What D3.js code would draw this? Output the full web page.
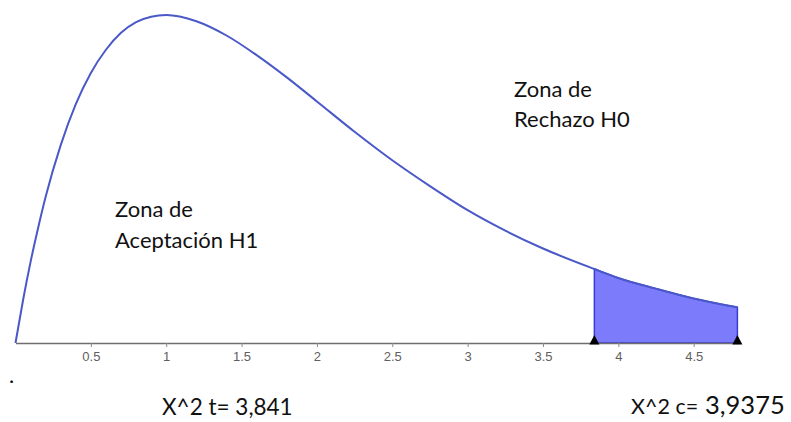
<!DOCTYPE html>
<html>
<head>
<meta charset="utf-8">
<script src="https://cdn.jsdelivr.net/npm/d3@7"></script>
<style>
  html, body { margin: 0; padding: 0; background: #fff; }
  #chart { width: 791px; height: 422px; }
</style>
</head>
<body>
<div id="chart"></div>
<script>
const width = 791;
const height = 422;

// points (x, hauteur)
const curveX = [0, 0.05, 0.1, 0.15, 0.2, 0.3, 0.4, 0.5, 0.6, 0.7, 0.8, 0.9, 1, 1.2, 1.4, 1.6, 1.8, 2, 2.25, 2.5, 2.75, 3, 3.25, 3.5, 3.841, 4, 4.25, 4.5, 4.79];
const curveY = [0, 0.048, 0.091, 0.129, 0.164, 0.222, 0.268, 0.303, 0.329, 0.348, 0.360, 0.366, 0.368, 0.361, 0.345, 0.323, 0.298, 0.271, 0.237, 0.205, 0.176, 0.149, 0.126, 0.106, 0.083, 0.073, 0.061, 0.050, 0.040];

const tickValues = [0.5, 1, 1.5, 2, 2.5, 3, 3.5, 4, 4.5];
const critical = 3.841;   // X^2 t
const xEnd = 4.79;        // fin de la zone ombrée
const markers = [critical, xEnd];

const data = curveX.map((x, i) => ({x: x, y: curveY[i]}));

const x = d3.scaleLinear().domain([0, 4.8]).range([15.5, 738.9]);
const y = d3.scaleLinear().domain([0, 0.368]).range([343, 15]);

const svg = d3.create("svg")
    .attr("width", width)
    .attr("height", height)
    .attr("viewBox", `0 0 ${width} ${height}`)
    .style("display", "block")
    .style("background", "#fff");

// zone de rejet
const area = d3.area()
    .x(d => x(d.x))
    .y0(y(0))
    .y1(d => y(d.y))
    .curve(d3.curveMonotoneX);

svg.append("path")
    .datum(data.filter(d => d.x >= critical))
    .attr("d", area)
    .attr("fill", "#7b7bfc")
    .attr("stroke", "#3b3bd6")
    .attr("stroke-width", 1.5);

// axe x
const axis = svg.append("g")
    .attr("transform", `translate(0,${y(0)})`)
    .attr("font-size", 13)
    .attr("font-family", "'Liberation Sans', Arial, sans-serif")
    .call(d3.axisBottom(x).tickValues(tickValues).tickSize(4).tickSizeOuter(0).tickFormat(d3.format("")));
axis.attr("font-size", 13).attr("font-family", "'Liberation Sans', Arial, sans-serif");
axis.select(".domain").attr("stroke", "#6e6e6e").attr("stroke-width", 1.6);
axis.selectAll(".tick line").attr("stroke", "#8a8a8a");
axis.selectAll(".tick text")
    .attr("fill", "#606060")
    .attr("dy", "0.85em");

// courbe
const line = d3.line()
    .x(d => x(d.x))
    .y(d => y(d.y))
    .curve(d3.curveMonotoneX);

svg.append("path")
    .datum(data)
    .attr("d", line)
    .attr("fill", "none")
    .attr("stroke", "#4a58c8")
    .attr("stroke-width", 2);

// triangles sur l'axe
svg.append("g")
  .selectAll("path")
  .data(markers)
  .join("path")
    .attr("d", "M-5,1.5 L0,-8 L5,1.5 Z")
    .attr("transform", d => `translate(${x(d)},${y(0)})`)
    .attr("fill", "#000");

// textes
const font = "Lato, 'Open Sans', sans-serif";
const txt = svg.append("g").style("font-family", font).attr("fill", "#111");

function lines(x0, y0, dy, arr, size) {
  arr.forEach((t, i) => {
    txt.append("text")
      .attr("x", x0)
      .attr("y", y0 + i * dy)
      .style("font-size", size + "px")
      .text(t);
  });
}

lines(115, 217, 31, ["Zona de", "Aceptación H1"], 22);
lines(514, 97, 30, ["Zona de", "Rechazo H0"], 22);

txt.append("text").attr("x", 162).attr("y", 415).style("font-size", "22.5px").text("X^2 t= 3,841");

txt.append("text").attr("x", 631).attr("y", 414).style("font-size", "21.5px").text("X^2 c=");
txt.append("text").attr("x", 705).attr("y", 414).style("font-size", "25.5px").text("3,9375");

txt.append("text").attr("x", 9).attr("y", 383).style("font-size", "22px").text(".");

document.getElementById("chart").appendChild(svg.node());
</script>
</body>
</html>
